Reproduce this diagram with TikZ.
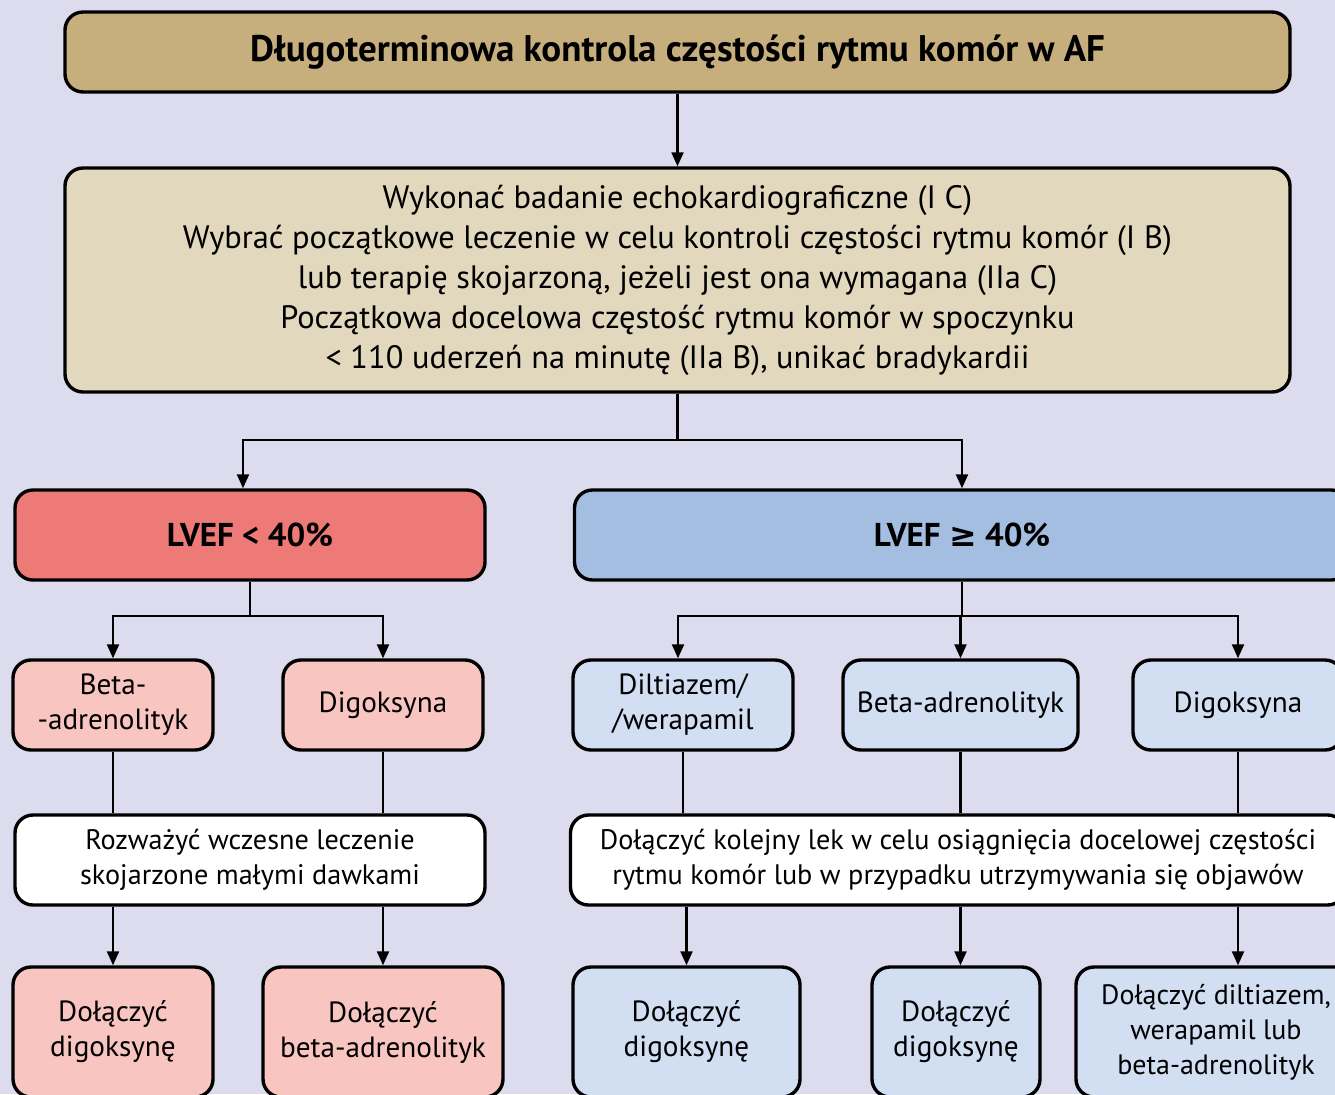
\documentclass[tikz,border=0pt]{standalone}
\usepackage{fontspec}
\setmainfont{PT Sans}
\newfontfamily\symfont{DejaVu Sans}
\usepackage{tikz}
\usetikzlibrary{arrows.meta}
\usetikzlibrary{positioning}
\definecolor{bgviolet}{RGB}{220,220,238}
\definecolor{tanhead}{RGB}{198,175,125}
\definecolor{tanlight}{RGB}{226,216,190}
\definecolor{redhead}{RGB}{238,122,119}
\definecolor{redlight}{RGB}{248,197,193}
\definecolor{bluehead}{RGB}{164,190,226}
\definecolor{bluelight}{RGB}{210,222,242}
\tikzset{
    box/.style={draw=black, line width=1.7pt, rounded corners=9pt, align=center,
        inner sep=2pt, font=\fontsize{14.6}{17.5}\selectfont},
    headbox/.style={box, fill=tanhead, minimum width=612.5pt, minimum height=40pt,
        font=\fontsize{18.5}{22}\selectfont\bfseries},
    echobox/.style={box, fill=tanlight, minimum width=612.5pt, minimum height=112pt,
        font=\fontsize{16.2}{20}\selectfont},
    lvefbox/.style={box, minimum height=45pt, font=\fontsize{16.5}{19}\selectfont\bfseries},
    drugbox/.style={box, minimum height=45pt},
    notebox/.style={box, fill=white, minimum height=45pt, font=\fontsize{14.1}{17.5}\selectfont},
    addbox/.style={box, minimum height=65pt},
    arr/.style={draw=black, line width=1.1pt, -{Triangle[length=7pt,width=6pt]}},
    link/.style={draw=black, line width=1.1pt},
}

\begin{document}
\begin{tikzpicture}[x=0.5pt, y=-0.5pt]
	\fill[bgviolet] (0,0) rectangle (1335,1094);
	\useasboundingbox (0,0) rectangle (1335,1094);
	\clip (0,0) rectangle (1335,1094);
	% top
	\node[headbox] (head) at (677.5,52) {Długoterminowa kontrola częstości rytmu komór w AF};
	\node[echobox] (echo) at (677.5,280) {Wykonać badanie echokardiograficzne (I C)\\
		Wybrać początkowe leczenie w celu kontroli częstości rytmu komór (I B)\\
		lub terapię skojarzoną, jeżeli jest ona wymagana (IIa C)\\
		Początkowa docelowa częstość rytmu komór w spoczynku\\
		< 110 uderzeń na minutę (IIa B), unikać bradykardii};
	% LVEF
	\node[lvefbox, fill=redhead, minimum width=235pt] (lvefA) at (250,535) {LVEF < 40\%};
	\node[lvefbox, fill=bluehead, minimum width=387.5pt] (lvefB) at (962,535) {LVEF {\symfont ≥} 40\%};
	% drugs, left
	\node[drugbox, fill=redlight, minimum width=100pt] (betaA) at (113,705) {Beta-\\-adrenolityk};
	\node[drugbox, fill=redlight, minimum width=100pt] (digA) at (383,705) {Digoksyna};
	% drugs, right
	\node[drugbox, fill=bluelight, minimum width=110pt] (dilt) at (683,705) {Diltiazem/\\/werapamil};
	\node[drugbox, fill=bluelight, minimum width=117.5pt] (betaB) at (960.5,705) {Beta-adrenolityk};
	\node[drugbox, fill=bluelight, minimum width=105pt] (digB) at (1238,705) {Digoksyna};
	% notes
	\node[notebox, minimum width=235pt] (comboA) at (250,860) {Rozważyć wczesne leczenie\\skojarzone małymi dawkami};
	\node[notebox, minimum width=387.5pt] (comboB) at (958,860) {Dołączyć kolejny lek w celu osiągnięcia docelowej częstości\\rytmu komór lub w przypadku utrzymywania się objawów};
	% bottom
	\node[addbox, fill=redlight, minimum width=100pt] (addDigA) at (113,1032) {Dołączyć\\digoksynę};
	\node[addbox, fill=redlight, minimum width=120pt] (addBetaA) at (383,1032) {Dołączyć\\beta-adrenolityk};
	\node[addbox, fill=bluelight, minimum width=113.5pt] (addDigB) at (686.5,1032) {Dołączyć\\digoksynę};
	\node[addbox, fill=bluelight, minimum width=84pt] (addDigC) at (956,1032) {Dołączyć\\digoksynę};
	\node[addbox, fill=bluelight, minimum width=140pt, font=\fontsize{14}{17.5}\selectfont] (addMix) at (1216,1032) {Dołączyć diltiazem,\\werapamil lub\\beta-adrenolityk};
	% connectors
	\draw[arr] (head.south) -- (echo.north);
	\draw[arr] (echo.south) -- ++(0,46) -| ([xshift=-3.5pt]lvefA.north);
	\draw[arr] (echo.south) -- ++(0,46) -| (lvefB.north);
	\draw[arr] (lvefA.south) -- ++(0,34) -| (betaA.north);
	\draw[arr] (lvefA.south) -- ++(0,34) -| (digA.north);
	\draw[arr] (lvefB.south) -- ++(0,34) -| ([xshift=-2.5pt]dilt.north);
	\draw[arr] (lvefB.south) -- ++(0,34) -| (betaB.north);
	\draw[arr] (lvefB.south) -- ++(0,34) -| (digB.north);
	\draw[link] (betaA.south) -- (betaA.south |- comboA.north);
	\draw[link] (digA.south) -- (digA.south |- comboA.north);
	\draw[link] (dilt.south) -- (dilt.south |- comboB.north);
	\draw[link] (betaB.south) -- (betaB.south |- comboB.north);
	\draw[link] (digB.south) -- (digB.south |- comboB.north);
	\draw[arr] (addDigA.north |- comboA.south) -- (addDigA.north);
	\draw[arr] (addBetaA.north |- comboA.south) -- (addBetaA.north);
	\draw[arr] (addDigB.north |- comboB.south) -- (addDigB.north);
	\draw[arr] (betaB.south |- comboB.south) -- (betaB.south |- addDigC.north);
	\draw[arr] (digB.south |- comboB.south) -- (digB.south |- addMix.north);
\end{tikzpicture}
\end{document}
